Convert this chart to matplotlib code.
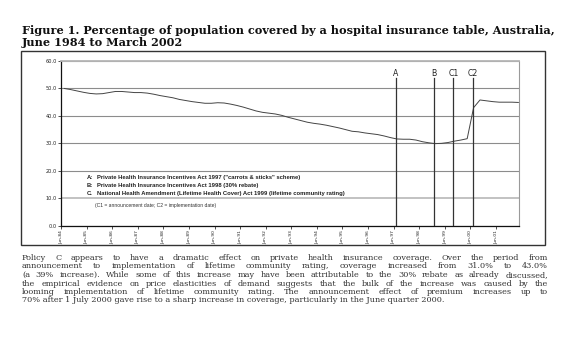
import numpy as np
import matplotlib
matplotlib.use('Agg')
import matplotlib.pyplot as plt
from matplotlib.patches import Rectangle

W, H = 582, 353

# quarterly coverage (%), Jun 1984 .. Mar 2002
coverage = [50.0, 49.6, 49.1, 48.6, 48.2, 48.0, 48.1, 48.5, 48.9, 48.9,
            48.7, 48.5, 48.5, 48.3, 47.9, 47.4, 47.0, 46.6, 46.0, 45.6,
            45.2, 44.9, 44.6, 44.6, 44.8, 44.7, 44.3, 43.8, 43.2, 42.5,
            41.8, 41.3, 41.0, 40.7, 40.2, 39.5, 38.9, 38.3, 37.7, 37.3,
            37.0, 36.6, 36.1, 35.6, 35.0, 34.4, 34.2, 33.8, 33.5, 33.2,
            32.7, 32.1, 31.6, 31.5, 31.5, 31.2, 30.6, 30.2, 29.9, 30.0,
            30.3, 30.8, 31.2, 31.7, 43.0, 45.8, 45.5, 45.2, 45.0, 45.0,
            45.0, 44.9]
tick_labels = ['Jun-%02d' % (y % 100) for y in range(1984, 2002)]
yticks = [0, 10, 20, 30, 40, 50, 60]

events = ['A', 'B', 'C1', 'C2']
event_months = [157, 175, 184, 193]   # months after Jun 1984 (Jul-97, Jan-99, Oct-99, Jul-00)

legend_lines = [
    ('A:', 'Private Health Insurance Incentives Act 1997 ("carrots & sticks" scheme)'),
    ('B:', 'Private Health Insurance Incentives Act 1998 (30% rebate)'),
    ('C.', 'National Health Amendment (Lifetime Health Cover) Act 1999 (lifetime community rating)'),
]
legend_note = '(C1 = announcement date; C2 = implementation date)'

title_lines = ['Figure 1. Percentage of population covered by a hospital insurance table, Australia,',
               'June 1984 to March 2002']

body_lines = [
    'Policy C appears to have a dramatic effect on private health insurance coverage.  Over the period from',
    'announcement to implementation of lifetime community rating, coverage increased from 31.0% to 43.0%',
    '(a 39% increase).  While some of this increase may have been attributable to the 30% rebate as already discussed,',
    'the empirical evidence on price elasticities of demand suggests that the bulk of the increase was caused by the',
    'looming implementation of lifetime community rating.  The announcement effect of premium increases up to',
    '70% after 1 July 2000 gave rise to a sharp increase in coverage, particularly in the June quarter 2000.',
]

fig = plt.figure(figsize=(W / 100, H / 100), dpi=100)
fig.patch.set_facecolor('white')
r = fig.canvas.get_renderer()


def fit_size(text, width, **kw):
    # font size that makes text about `width` pixels wide
    t = fig.text(0, 0, text, fontsize=10, **kw)
    w = t.get_window_extent(r).width
    t.remove()
    return 10 * width / w


# box round the chart
fig.patches.append(Rectangle((21 / W, 1 - 245 / H), (545 - 21) / W, (245 - 51) / H,
                             transform=fig.transFigure, fill=False, ec='#333333', lw=1.0))

ax = fig.add_axes([61 / W, 1 - 225.7 / H, (519 - 61) / W, (225.7 - 61) / H])
x = np.arange(len(coverage)) + 0.5
ax.plot(x, coverage, color='#444444', lw=0.7, zorder=3)

ax.set_ylim(0, 60)
ax.set_xlim(0, 71.6)
ax.set_yticks(yticks)
ax.set_yticklabels(['%.1f' % v for v in yticks], fontsize=3.6, color='#222222')
ax.set_xticks(np.arange(len(tick_labels)) * 4)
ax.set_xticklabels(tick_labels, rotation=90, fontsize=3.2, color='#222222')
ax.tick_params(axis='both', length=2.2, width=0.6, pad=1, color='#333333')
ax.yaxis.grid(True, color='#8c8c8c', lw=0.8)
ax.set_axisbelow(True)
# the 10.0 rule is paler and heavier in the scan
ax.get_ygridlines()[1].set_color('#bdbdbd')
ax.get_ygridlines()[1].set_linewidth(1.3)
for s in ['left', 'bottom']:
    ax.spines[s].set_color('#111111')
    ax.spines[s].set_linewidth(0.9)
ax.spines['top'].set_color('#b5b5b5')
ax.spines['top'].set_linewidth(1.3)
ax.spines['right'].set_color('#9a9a9a')
ax.spines['right'].set_linewidth(0.8)

for name, m in zip(events, event_months):
    q = m / 3.0
    ax.plot([q, q], [0, 53.8], color='#333333', lw=0.9, zorder=4)
    ax.text(q, 55.3, name, ha='center', va='center', fontsize=5.6, color='#222222')

leg_size = fit_size(legend_lines[2][1], 345 - 97, family='Liberation Sans', fontweight='bold')
ys = [17.5, 14.7, 11.8]
for (lab, txt), yy in zip(legend_lines, ys):
    ax.text(0.056, yy, lab, transform=ax.get_yaxis_transform(), fontsize=leg_size,
            fontweight='bold', family='Liberation Sans', va='center', color='#222222')
    ax.text(0.078, yy, txt, transform=ax.get_yaxis_transform(), fontsize=leg_size,
            fontweight='bold', family='Liberation Sans', va='center', color='#222222')
ax.text(0.074, 7.5, legend_note, transform=ax.get_yaxis_transform(), fontsize=leg_size * 0.85,
        family='Liberation Sans', va='center', color='#333333')

# title
title_size = fit_size(title_lines[0], 555 - 22, family='DejaVu Serif', fontweight='bold')
for line, yy in zip(title_lines, [30.7, 42.3]):
    fig.text(22 / W, 1 - yy / H, line, fontsize=title_size, fontweight='bold', family='DejaVu Serif',
             va='center', ha='left', color='#111111')

# body text, justified word by word
body_size = fit_size(body_lines[-1], 445 - 22, family='DejaVu Serif')
x0, x1 = 22, 548
body_y = [258, 266.5, 275, 283.5, 292, 300.5]
for i, (line, yy) in enumerate(zip(body_lines, body_y)):
    if i == len(body_lines) - 1:
        fig.text(x0 / W, 1 - yy / H, line, fontsize=body_size, family='DejaVu Serif',
                 va='center', color='#333333')
        continue
    words = line.split()
    objs = [fig.text(0, 1 - yy / H, w, fontsize=body_size, family='DejaVu Serif',
                     va='center', color='#333333') for w in words]
    widths = [t.get_window_extent(r).width for t in objs]
    gap = ((x1 - x0) - sum(widths)) / (len(words) - 1)
    xx = x0
    for t, w in zip(objs, widths):
        t.set_x(xx / W)
        xx += w + gap

fig.savefig('out.png', dpi=100)
